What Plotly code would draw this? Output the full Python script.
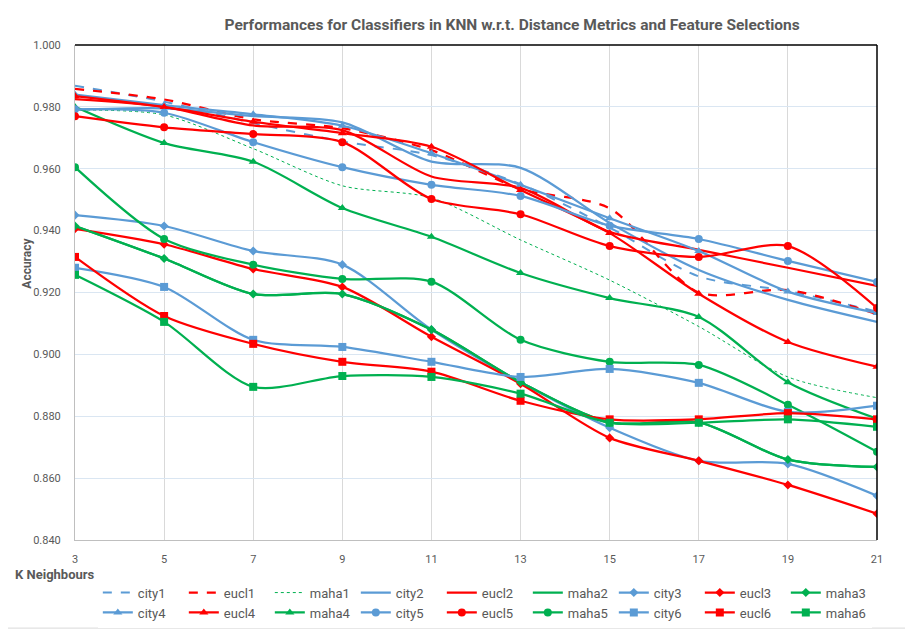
import plotly.graph_objects as go

# K values on the x axis
k_values = [3, 5, 7, 9, 11, 13, 15, 17, 19, 21]

# accuracy per classifier
city1 = [0.9868, 0.9817, 0.9748, 0.9688, 0.9644, 0.9550, 0.9410, 0.9252, 0.9205, 0.9138]
eucl1 = [0.9858, 0.9824, 0.9760, 0.9731, 0.9660, 0.9535, 0.9472, 0.9200, 0.9208, 0.9130]
maha1 = [0.9790, 0.9774, 0.9665, 0.9545, 0.9506, 0.9370, 0.9240, 0.9090, 0.8927, 0.8860]
city2 = [0.9790, 0.9795, 0.9770, 0.9750, 0.9623, 0.9603, 0.9425, 0.9273, 0.9176, 0.9105]
eucl2 = [0.9825, 0.9800, 0.9740, 0.9725, 0.9575, 0.9538, 0.9396, 0.9338, 0.9280, 0.9221]
maha2 = [0.9415, 0.9310, 0.9195, 0.9195, 0.9080, 0.8910, 0.8780, 0.8780, 0.8660, 0.8636]
city3 = [0.9450, 0.9415, 0.9334, 0.9290, 0.9080, 0.8910, 0.8763, 0.8656, 0.8646, 0.8543]
eucl3 = [0.9406, 0.9356, 0.9276, 0.9218, 0.9057, 0.8905, 0.8730, 0.8656, 0.8578, 0.8485]
maha3 = [0.9415, 0.9310, 0.9195, 0.9195, 0.9080, 0.8910, 0.8780, 0.8780, 0.8660, 0.8636]
city4 = [0.9840, 0.9806, 0.9776, 0.9739, 0.9650, 0.9548, 0.9440, 0.9334, 0.9203, 0.9134]
eucl4 = [0.9835, 0.9800, 0.9752, 0.9715, 0.9671, 0.9531, 0.9392, 0.9196, 0.9040, 0.8960]
maha4 = [0.9800, 0.9683, 0.9623, 0.9473, 0.9380, 0.9263, 0.9182, 0.9121, 0.8910, 0.8792]
city5 = [0.9792, 0.9781, 0.9686, 0.9605, 0.9548, 0.9512, 0.9416, 0.9373, 0.9302, 0.9234]
eucl5 = [0.9770, 0.9734, 0.9712, 0.9686, 0.9502, 0.9453, 0.9350, 0.9315, 0.9350, 0.9150]
maha5 = [0.9605, 0.9373, 0.9290, 0.9244, 0.9235, 0.9047, 0.8976, 0.8966, 0.8837, 0.8685]
city6 = [0.9280, 0.9218, 0.9047, 0.9024, 0.8976, 0.8927, 0.8953, 0.8908, 0.8814, 0.8834]
eucl6 = [0.9315, 0.9124, 0.9034, 0.8976, 0.8944, 0.8850, 0.8790, 0.8790, 0.8810, 0.8790]
maha6 = [0.9257, 0.9105, 0.8895, 0.8930, 0.8927, 0.8873, 0.8779, 0.8779, 0.8790, 0.8766]

BLUE = '#5B9BD5'
RED = '#FF0000'
GREEN = '#00B050'

# name, values, colour, dash, width, marker symbol
series = [
    ('city1', city1, BLUE, 'dash', 2, None),
    ('eucl1', eucl1, RED, 'dash', 2.25, None),
    ('maha1', maha1, GREEN, 'dot', 1, None),
    ('city2', city2, BLUE, 'solid', 2.25, None),
    ('eucl2', eucl2, RED, 'solid', 2.25, None),
    ('maha2', maha2, GREEN, 'solid', 2.25, None),
    ('city3', city3, BLUE, 'solid', 2.25, 'diamond'),
    ('eucl3', eucl3, RED, 'solid', 2.25, 'diamond'),
    ('maha3', maha3, GREEN, 'solid', 2.25, 'diamond'),
    ('city4', city4, BLUE, 'solid', 2.25, 'triangle-up'),
    ('eucl4', eucl4, RED, 'solid', 2.25, 'triangle-up'),
    ('maha4', maha4, GREEN, 'solid', 2.25, 'triangle-up'),
    ('city5', city5, BLUE, 'solid', 2.25, 'circle'),
    ('eucl5', eucl5, RED, 'solid', 2.25, 'circle'),
    ('maha5', maha5, GREEN, 'solid', 2.25, 'circle'),
    ('city6', city6, BLUE, 'solid', 2.25, 'square'),
    ('eucl6', eucl6, RED, 'solid', 2.25, 'square'),
    ('maha6', maha6, GREEN, 'solid', 2.25, 'square'),
]

fig = go.Figure()
for name, vals, color, dash, width, symbol in series:
    fig.add_trace(go.Scatter(
        x=k_values, y=vals, name=name,
        mode='lines+markers' if symbol else 'lines',
        line=dict(color=color, dash=dash, width=width, shape='spline', smoothing=0.8),
        marker=dict(symbol=symbol or 'circle', size=8 if symbol != 'diamond' else 7, color=color),
    ))

font_main = 'Roboto, Arial'
grey_text = '#595959'

# page body adds an 8px margin, so the figure is a little smaller than the window
fig.update_layout(
    width=905, height=627,
    margin=dict(l=67, r=36, t=37, b=95, autoexpand=False),
    paper_bgcolor='white', plot_bgcolor='white',
    font=dict(family=font_main, size=11, color=grey_text),
    title=dict(
        text='<b>Performances for Classifiers in KNN w.r.t. Distance Metrics and Feature Selections</b>',
        x=0.557, xanchor='center', y=0.973, yanchor='middle',
        font=dict(size=15.5, color=grey_text, family=font_main),
    ),
    xaxis=dict(
        range=[3, 21], tickmode='linear', tick0=3, dtick=2,
        showgrid=True, gridcolor='#D9D9D9', gridwidth=1,
        showline=True, linecolor='#BFBFBF', linewidth=1,
        ticks='', ticklabelstandoff=9, zeroline=False,
        tickfont=dict(size=11, color=grey_text),
    ),
    yaxis=dict(
        range=[0.84, 1.0], tickmode='linear', tick0=0.84, dtick=0.02,
        tickformat='.3f', showgrid=True, gridcolor='#DAE6F2', gridwidth=1,
        showline=True, linecolor='#BFBFBF', linewidth=1,
        ticks='', ticklabelstandoff=11, zeroline=False,
        tickfont=dict(size=11, color=grey_text),
    ),
    legend=dict(
        orientation='h', x=0.511, xanchor='center', y=-0.076, yanchor='top',
        entrywidth=41, entrywidthmode='pixels', traceorder='normal',
        itemwidth=30, font=dict(size=13, color=grey_text), tracegroupgap=0,
    ),
    showlegend=True,
)

# axis titles placed as in the original (bold, left/bottom)
fig.add_annotation(text='<b>Accuracy</b>', xref='paper', yref='paper',
                   x=-0.06, xanchor='center', y=0.56, yanchor='middle',
                   textangle=-90, showarrow=False,
                   font=dict(size=12, color=grey_text, family=font_main))
fig.add_annotation(text='<b>K Neighbours</b>', xref='paper', yref='paper',
                   x=-0.077, y=-0.069, xanchor='left', yanchor='middle', showarrow=False,
                   font=dict(size=13, color=grey_text, family=font_main))

# black frame on top and right of the plot area, grey chart border
fig.add_shape(type='line', xref='paper', yref='paper', x0=0, x1=1, y0=1, y1=1,
              line=dict(color='black', width=1.5))
fig.add_shape(type='line', xref='paper', yref='paper', x0=1, x1=1, y0=0, y1=1,
              line=dict(color='black', width=1.5))
fig.add_shape(type='rect', xref='paper', yref='paper',
              x0=-0.089, x1=1.04, y0=-0.178, y1=1.085,
              line=dict(color='#D9D9D9', width=1))

fig.write_html("out.html")
